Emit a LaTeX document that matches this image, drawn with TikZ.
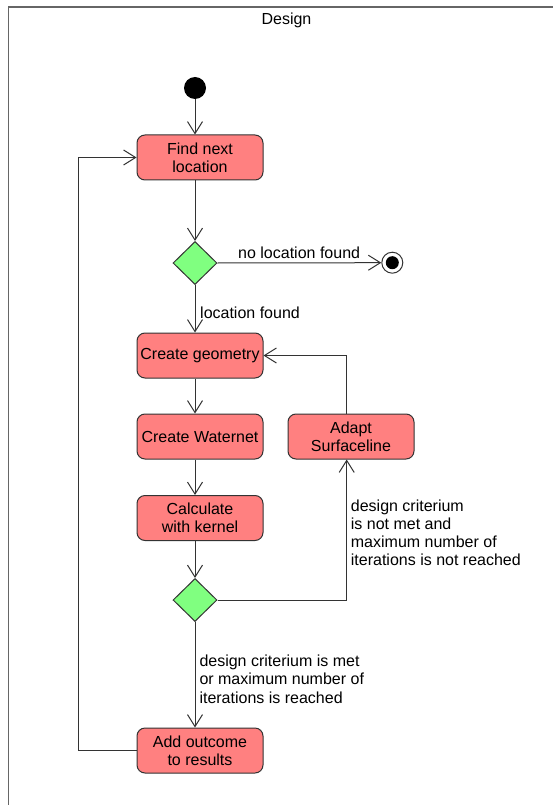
\documentclass[tikz,border=0pt]{standalone}
\usepackage{fontspec}
\setmainfont{Liberation Sans}
\usetikzlibrary{arrows.meta,shapes.geometric}
\definecolor{boxred}{HTML}{FF8080}
\definecolor{diagreen}{HTML}{80FF80}
\definecolor{edge}{HTML}{333333}
\definecolor{framegray}{HTML}{666666}
\begin{document}
\begin{tikzpicture}[x=1pt,y=-1pt,
  every node/.style={font=\fontsize{16}{18.3}\selectfont},
  action/.style={draw=edge, line width=1pt, fill=boxred, rounded corners=8pt,
    minimum width=126pt, minimum height=45pt, align=center, inner sep=1pt},
  decision/.style={draw=edge, line width=1pt, fill=diagreen, diamond, aspect=1,
    minimum width=44pt, minimum height=43pt, inner sep=0pt},
  flow/.style={draw=edge, line width=1pt, -{Straight Barb[length=12pt,width=15pt,line width=1pt]}},
  plain/.style={draw=edge, line width=1pt},
  lbl/.style={inner sep=0pt, align=left, text=black}]
\useasboundingbox (0,0) rectangle (553,805);
\fill[white] (0,0) rectangle (553,805);
% frame
\draw[framegray, line width=1.5pt] (553,6.8) -- (8.5,6.8) -- (8.5,805);
\node[inner sep=0pt] (title) at (286.5,20) {Design};

% nodes
\node[circle, fill=black, minimum size=22pt, inner sep=0pt] (start) at (195,88) {};
\node[action] (find) at (200,157.5) {Find next\\location};
\node[decision] (d1) at (195,263) {};
\node[circle, draw=edge, line width=1pt, fill=white, minimum size=21pt, inner sep=0pt] (end) at (392.3,262.7) {};
\fill[black] (end.center) circle (6.5pt);
\node[action] (geom) at (200,355.5) {Create geometry};
\node[action] (water) at (200,436.5) {Create Waternet};
\node[action] (calc) at (200,518) {Calculate\\with kernel};
\node[action] (adapt) at (351,436.5) {Adapt\\Surfaceline};
\node[decision] (d2) at (195,600) {};
\node[action] (add) at (200,750.5) {Add outcome\\to results};
\coordinate (rc) at (346.7,600);
\coordinate (lc) at (78.3,750.5);

% connectors
\draw[flow] (start) -- (start |- find.north);
\draw[flow] (find.south -| d1) -- (d1.north);
\draw[flow] (d1.east) -- (end.west);
\draw[flow] (d1.south) -- (d1 |- geom.north);
\draw[flow] (geom.south -| d1) -- (d1 |- water.north);
\draw[flow] (water.south -| d1) -- (d1 |- calc.north);
\draw[flow] (calc.south -| d1) -- (d2.north);
\draw[flow] (d2.south) -- (d2 |- add.north);
\draw[plain] (d2.east) -- (rc);
\draw[flow] (rc) -- (rc |- adapt.south);
\draw[flow] (adapt.north -| rc) |- (geom.east);
\draw[plain] (add.west) -- (lc);
\draw[flow] (lc) |- (find.west);

% labels
\node[lbl, anchor=west] (l1) at (238,252.7) {no location found};
\node[lbl, anchor=west] (l2) at (200,312.7) {location found};
\node[lbl, anchor=west] (l3) at (350.7,532.8) {design criterium\\is not met and\\maximum number of\\iterations is not reached};
\node[lbl, anchor=west] (l4) at (199.3,679) {design criterium is met\\or maximum number of\\iterations is reached};
\end{tikzpicture}
\end{document}
